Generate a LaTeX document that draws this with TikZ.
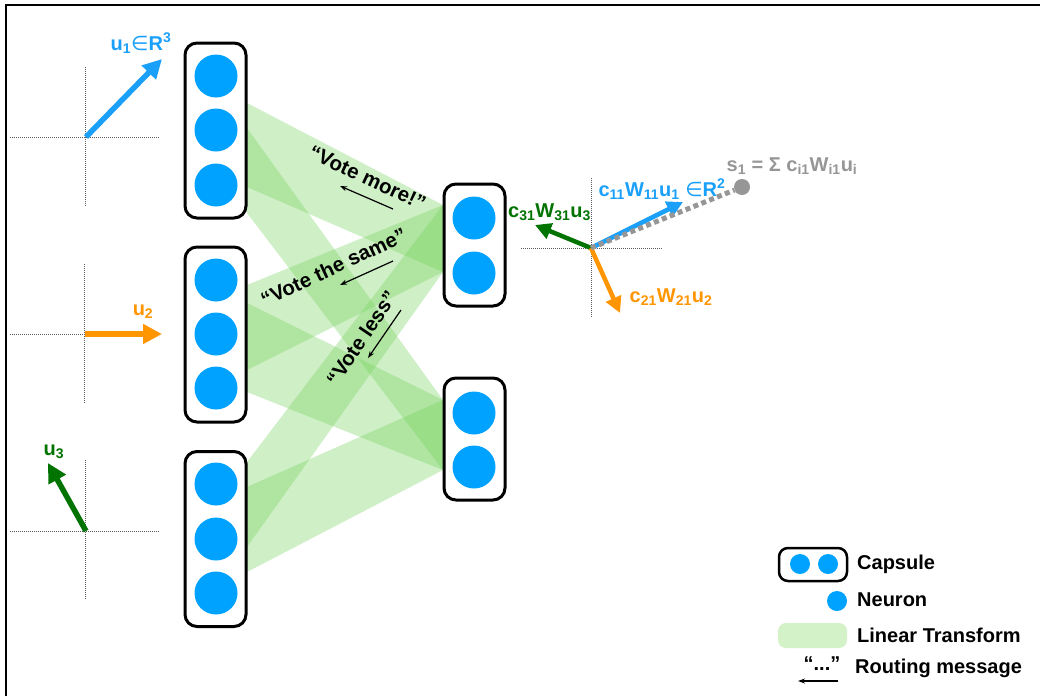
\documentclass[tikz,border=0pt]{standalone}
\usepackage{fontspec}
\setmainfont{Liberation Sans}
\newfontfamily\dejavu{DejaVu Sans}
\usetikzlibrary{arrows.meta}
\definecolor{neuronblue}{RGB}{0,162,255}
\definecolor{vecblue}{RGB}{27,160,250}
\definecolor{vecorange}{RGB}{255,149,0}
\definecolor{vecgreen}{RGB}{0,115,0}
\definecolor{bandgreen}{RGB}{115,210,90}
\definecolor{legendgreen}{RGB}{211,242,200}
\definecolor{sgray}{RGB}{150,150,150}
\definecolor{axisgray}{RGB}{90,90,90}
\begin{document}
\begin{tikzpicture}[x=1pt,y=-1pt,
 capsule/.style={draw=black, line width=3pt, rounded corners=12pt, fill=white, inner sep=0pt},
 neuron/.style={circle, fill=neuronblue, minimum size=43pt, inner sep=0pt},
 lneuron/.style={circle, fill=neuronblue, minimum size=20pt, inner sep=0pt},
 band/.style={fill=bandgreen, fill opacity=0.34},
 axisline/.style={draw=axisgray, line width=0.8pt, dash pattern=on 1pt off 1pt},
 bigvec/.style={line width=5.5pt, -{Triangle[length=19pt,width=19pt]}},
 smallvec/.style={line width=4.5pt, -{Triangle[length=16pt,width=16pt]}},
 msg/.style={line width=1.2pt, -{Stealth[length=7pt,width=5pt]}},
 lbl/.style={font=\fontsize{20}{24}\selectfont\bfseries, inner sep=0pt},
 vote/.style={font=\fontsize{20.5}{24}\selectfont\bfseries, inner sep=0pt},
]
\useasboundingbox (0,0) rectangle (1040,696);
\fill[white] (0,0) rectangle (1040,696);
% frame
\draw[line width=2pt] (6,696) -- (6,5) -- (1040,5);

% green bands (linear transforms)
\fill[band] (247,103) -- (443,205) -- (443,272) -- (247,187) -- cycle;
\fill[band] (247,128) -- (443,400) -- (443,470) -- (247,213) -- cycle;
\fill[band] (247,285) -- (443,205) -- (443,272) -- (247,370) -- cycle;
\fill[band] (247,303) -- (443,400) -- (443,470) -- (247,392) -- cycle;
\fill[band] (247,462) -- (443,205) -- (443,272) -- (247,547) -- cycle;
\fill[band] (247,487) -- (443,400) -- (443,470) -- (247,572) -- cycle;

% lower-level capsules
\node[capsule, minimum width=61pt, minimum height=175pt] (cap1) at (215.5,130.5) {};
\node[capsule, minimum width=61pt, minimum height=175pt] (cap2) at (215.5,334.5) {};
\node[capsule, minimum width=61pt, minimum height=175pt] (cap3) at (215.5,539) {};
\node[neuron] (n11) at (216,76) {};
\node[neuron] (n12) at (216,130) {};
\node[neuron] (n13) at (216,185) {};
\node[neuron] (n21) at (216,280) {};
\node[neuron] (n22) at (216,334) {};
\node[neuron] (n23) at (216,388) {};
\node[neuron] (n31) at (216,484) {};
\node[neuron] (n32) at (216,539) {};
\node[neuron] (n33) at (216,593) {};

% higher-level capsules
\node[capsule, minimum width=61pt, minimum height=122pt] (capA) at (474.5,245) {};
\node[capsule, minimum width=61pt, minimum height=122pt] (capB) at (474.5,439) {};
\node[neuron] (nA1) at (474,218) {};
\node[neuron] (nA2) at (474,273) {};
\node[neuron] (nB1) at (474,413) {};
\node[neuron] (nB2) at (474,467) {};

% routing messages
\node[vote, rotate=-25] (vmore) at (367.5,178) {“Vote more!”};
\coordinate (vm1) at (393,209); \coordinate (vm2) at (340,186);
\draw[msg] (vm1) -- (vm2);
\node[vote, rotate=25] (vsame) at (333.5,267) {“Vote the same”};
\coordinate (vs1) at (393,261); \coordinate (vs2) at (340,285);
\draw[msg] (vs1) -- (vs2);
\node[vote, rotate=56] (vless) at (361.5,338) {“Vote less”};
\coordinate (vl1) at (401,310); \coordinate (vl2) at (368,358);
\draw[msg] (vl1) -- (vl2);

% input vector axes
\coordinate (o1) at (86,137); \coordinate (o2) at (85,334); \coordinate (o3) at (86,531);
\coordinate (a1t) at (85,67);  \coordinate (a1b) at (85,207);
\coordinate (a1l) at (10,137); \coordinate (a1r) at (160,137);
\coordinate (a2t) at (84,264); \coordinate (a2b) at (84,404);
\coordinate (a2l) at (10,334); \coordinate (a2r) at (160,334);
\coordinate (a3t) at (85,460); \coordinate (a3b) at (85,600);
\coordinate (a3l) at (10,531); \coordinate (a3r) at (160,531);
\draw[axisline] (a1t) -- (a1b); \draw[axisline] (a1l) -- (a1r);
\draw[axisline] (a2t) -- (a2b); \draw[axisline] (a2l) -- (a2r);
\draw[axisline] (a3t) -- (a3b); \draw[axisline] (a3l) -- (a3r);
\coordinate (u1t) at (162,59); \coordinate (u2t) at (162,334); \coordinate (u3t) at (48,463);
\draw[bigvec, vecblue] (o1) -- (u1t);
\draw[bigvec, vecorange] (o2) -- (u2t);
\draw[bigvec, vecgreen] (o3) -- (u3t);
\node[lbl, text=vecblue] (u1l) at (141,43) {u\textsubscript{1}{\dejavu\mdseries ∈}R\textsuperscript{3}};
\node[lbl, text=vecorange] (u2l) at (143,312) {u\textsubscript{2}};
\node[lbl, text=vecgreen] (u3l) at (54,452) {u\textsubscript{3}};

% prediction vectors
\coordinate (o) at (591,248);
\coordinate (ovt) at (591,178); \coordinate (ovb) at (591,318);
\coordinate (ohl) at (521,248); \coordinate (ohr) at (662,248);
\draw[axisline] (ovt) -- (ovb); \draw[axisline] (ohl) -- (ohr);
\coordinate (pb) at (683,202); \coordinate (pg) at (535,225); \coordinate (po) at (620,313);
\draw[smallvec, vecblue] (o) -- (pb);
\draw[smallvec, vecgreen] (o) -- (pg);
\draw[smallvec, vecorange] (o) -- (po);
\node[circle, fill=sgray, minimum size=16pt, inner sep=0pt] (s1) at (742,187) {};
\draw[sgray, line width=5pt, dash pattern=on 5pt off 3.5pt] (o) -- (s1);
\node[lbl, text=vecgreen] (l31) at (549.5,212) {c\textsubscript{31}W\textsubscript{31}u\textsubscript{3}};
\node[lbl, text=vecblue] (l11) at (662,189) {c\textsubscript{11}W\textsubscript{11}u\textsubscript{1} {\dejavu\mdseries ∈}R\textsuperscript{2}};
\node[lbl, text=vecorange] (l21) at (671,297.5) {c\textsubscript{21}W\textsubscript{21}u\textsubscript{2}};
\node[lbl, text=sgray] (ls1) at (792,166) {s\textsubscript{1} = Σ c\textsubscript{i1}W\textsubscript{i1}u\textsubscript{i}};

% legend
\node[draw=black, line width=2.5pt, rounded corners=9pt, minimum width=68pt, minimum height=33pt, inner sep=0pt] (legcap) at (813,564.5) {};
\node[lneuron] (legn1) at (800,564) {};
\node[lneuron] (legn2) at (828,564) {};
\node[lbl, anchor=west] (legcapt) at (857,564) {Capsule};
\node[lneuron] (legn) at (837,601) {};
\node[lbl, anchor=west] (legnt) at (857,600) {Neuron};
\node[fill=legendgreen, rounded corners=8pt, minimum width=69pt, minimum height=25pt, inner sep=0pt] (legband) at (812.5,635.5) {};
\node[lbl, anchor=west] (legbt) at (857,635) {Linear Transform};
\node[lbl] (legq) at (822,664) {“...”};
\coordinate (lr1) at (838,681); \coordinate (lr2) at (798,681);
\draw[msg] (lr1) -- (lr2);
\node[lbl, anchor=west] (legrt) at (855,668) {Routing message};
\end{tikzpicture}
\end{document}
